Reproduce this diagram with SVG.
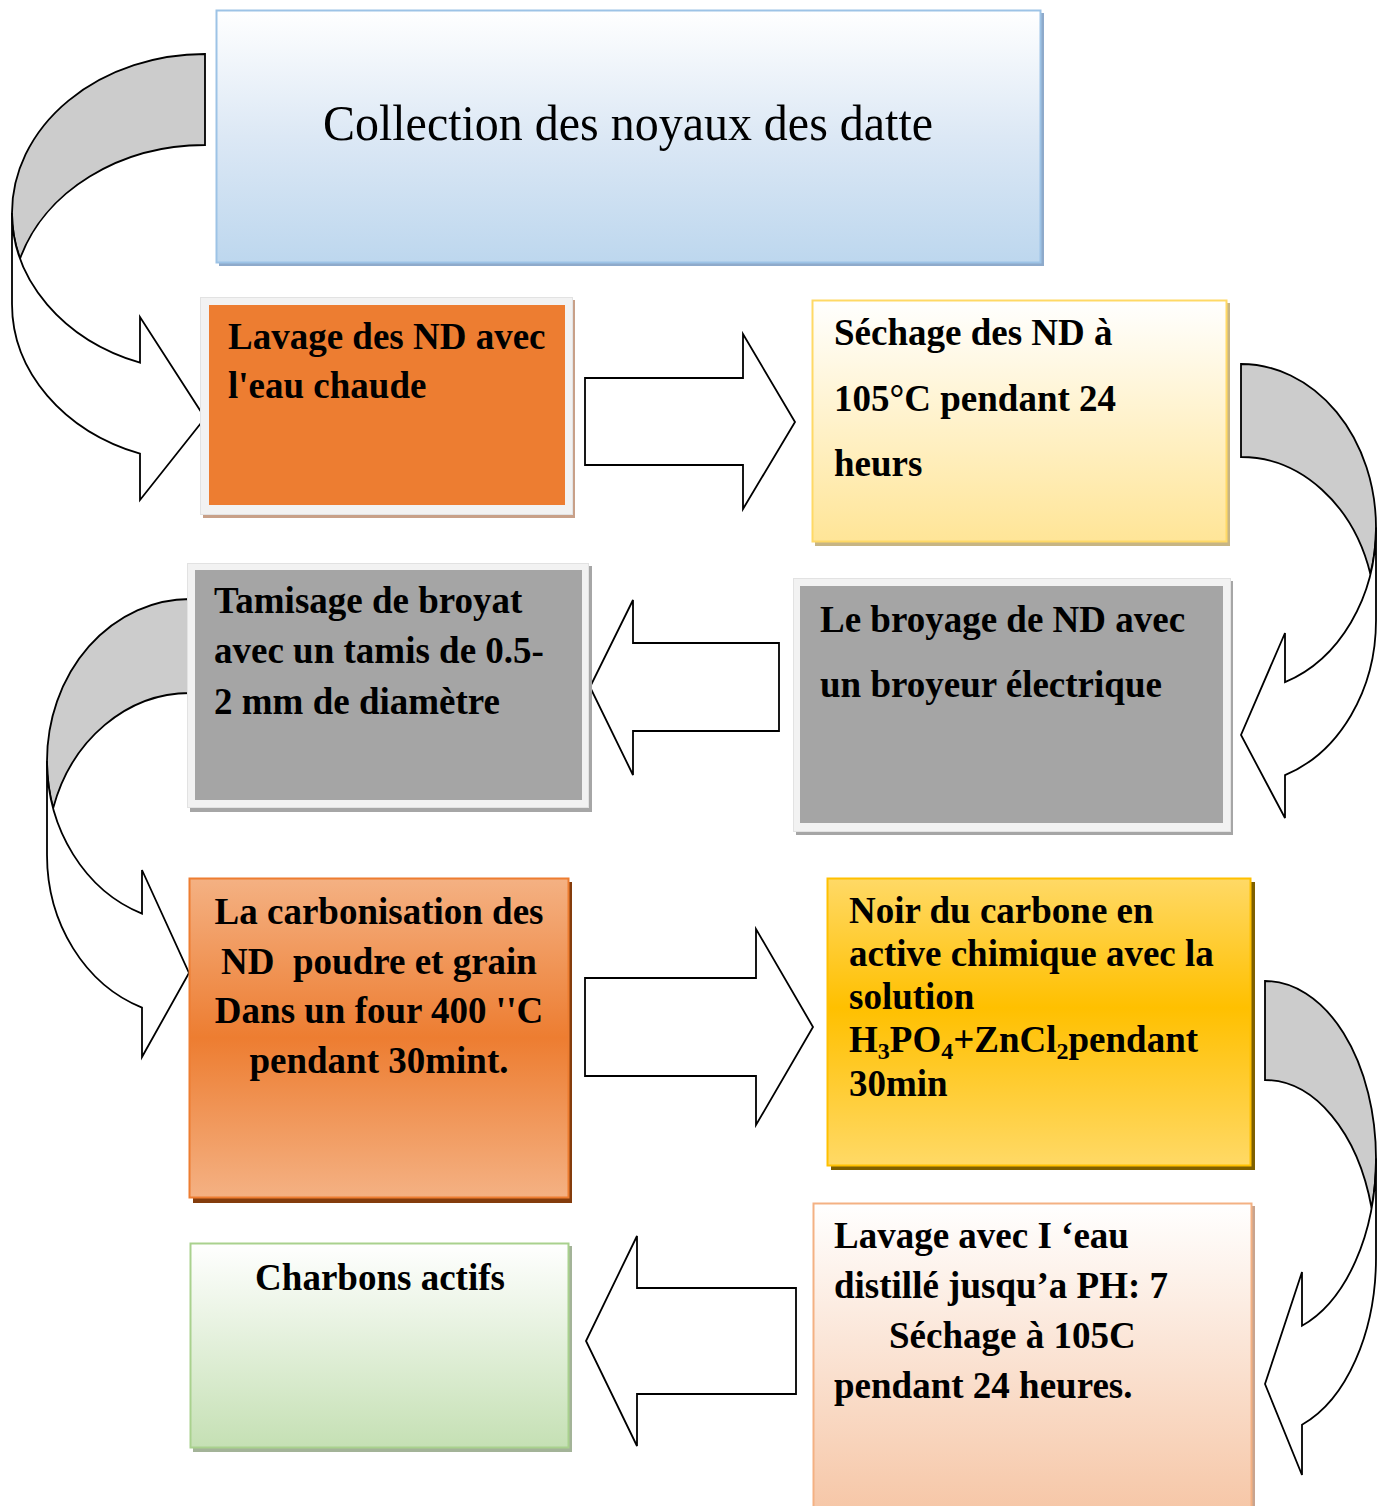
<svg xmlns="http://www.w3.org/2000/svg" width="1386" height="1506" viewBox="0 0 1386 1506">
<defs>
<linearGradient id="gTitle" x1="0" y1="0" x2="0" y2="1"><stop offset="0" stop-color="#ffffff"/><stop offset="0.5" stop-color="#dce8f5"/><stop offset="1" stop-color="#bdd7ee"/></linearGradient>
<linearGradient id="gYel" x1="0" y1="0" x2="0" y2="1"><stop offset="0" stop-color="#ffffff"/><stop offset="1" stop-color="#ffe597"/></linearGradient>
<linearGradient id="gOr" x1="0" y1="0" x2="0" y2="1"><stop offset="0" stop-color="#f4b183"/><stop offset="0.5" stop-color="#ed7d31"/><stop offset="1" stop-color="#f4b183"/></linearGradient>
<linearGradient id="gGold" x1="0" y1="0" x2="0" y2="1"><stop offset="0" stop-color="#ffd966"/><stop offset="0.45" stop-color="#ffc000"/><stop offset="1" stop-color="#ffd966"/></linearGradient>
<linearGradient id="gPeach" x1="0" y1="0" x2="0" y2="1"><stop offset="0" stop-color="#ffffff"/><stop offset="1" stop-color="#f6c6a6"/></linearGradient>
<linearGradient id="gGreen" x1="0" y1="0" x2="0" y2="1"><stop offset="0" stop-color="#ffffff"/><stop offset="1" stop-color="#c5e0b4"/></linearGradient>
</defs>
<style>
.t{font-family:"Liberation Serif","Times New Roman",serif;font-weight:bold;font-size:37px;fill:#000}
.title{font-family:"Liberation Serif","Times New Roman",serif;font-size:50px;fill:#000}
.arr{stroke:#000;stroke-width:1.8;stroke-linejoin:miter}
.back{fill:#cccccc}
.front{fill:#ffffff}
.frame{fill:#f2f2f2;stroke:#e2e2e2;stroke-width:1}
.gray{fill:#a5a5a5}
</style>

<g id="connectors">
  <g id="curve1">
    <path class="arr back" d="M 205 54 A 193 159 0 0 0 12 213 A 193 159 0 0 0 20.1 258.5 A 193 159 0 0 1 205 145 Z"/>
    <path class="arr front" d="M 12 213 A 193 159 0 0 0 140 362.7 L 140 317 L 205 418 L 140 500 L 140 453.7 A 193 159 0 0 1 12 304 Z"/>
  </g>
  <g id="curve2">
    <path class="arr back" d="M 1241 364 A 135 163.5 0 0 1 1376 527.5 A 135 163.5 0 0 1 1370.4 574 A 135 163.5 0 0 0 1241 457 Z"/>
    <path class="arr front" d="M 1376 527.5 A 135 163.5 0 0 1 1285 682.1 L 1285 633 L 1241 735 L 1285 818 L 1285 775.1 A 135 163.5 0 0 0 1376 620.5 Z"/>
  </g>
  <g id="curve3">
    <path class="arr back" d="M 190 599 A 143 162 0 0 0 47 761 A 143 162 0 0 0 53.2 808 A 143 162 0 0 1 190 693 Z"/>
    <path class="arr front" d="M 47 761 A 143 162 0 0 0 142 913.6 L 142 870 L 189 973 L 142 1057 L 142 1007.6 A 143 162 0 0 1 47 855 Z"/>
  </g>
  <g id="curve4">
    <path class="arr back" d="M 1265 981 A 111 177.5 0 0 1 1376 1158.5 A 111 177.5 0 0 1 1371.6 1208 A 111 177.5 0 0 0 1265 1080 Z"/>
    <path class="arr front" d="M 1376 1158.5 A 111 177.5 0 0 1 1302 1325.8 L 1302 1272 L 1265 1384 L 1302 1475 L 1302 1424.8 A 111 177.5 0 0 0 1376 1257.5 Z"/>
  </g>
  <polygon class="arr front" points="585,378 743,378 743,334 795,422 743,509 743,465 585,465"/>
  <polygon class="arr front" points="779,643 633,643 633,600 590,687 633,775 633,731 779,731"/>
  <polygon class="arr front" points="585,978 756,978 756,929 813,1027 756,1125 756,1076 585,1076"/>
  <polygon class="arr front" points="796,1288 637,1288 637,1236 586,1341 637,1446 637,1394 796,1394"/>
</g>

<g id="n-collection">
  <rect x="219" y="13" width="825" height="253" fill="#8eaacb"/>
  <rect x="216.5" y="10.5" width="824" height="252" fill="url(#gTitle)" stroke="#9dc3e6" stroke-width="2"/>
  <text class="title" x="628" y="140" text-anchor="middle" textLength="610" lengthAdjust="spacingAndGlyphs">Collection des noyaux des datte</text>
</g>

<g id="n-lavage">
  <rect x="203" y="300" width="372" height="218" fill="#c8a088"/>
  <rect x="200.5" y="297.5" width="372" height="217" class="frame"/>
  <rect x="209" y="305" width="356" height="200" fill="#ed7d31"/>
  <text class="t" x="228" y="349">Lavage des ND avec</text>
  <text class="t" x="228" y="398">l'eau chaude</text>
</g>

<g id="n-sechage">
  <rect x="815" y="303" width="415" height="243" fill="#c7b584"/>
  <rect x="812.5" y="300.5" width="414" height="241" fill="url(#gYel)" stroke="#ffd966" stroke-width="2"/>
  <text class="t" x="834" y="345">Séchage des ND à</text>
  <text class="t" x="834" y="411">105°C pendant 24</text>
  <text class="t" x="834" y="476">heurs</text>
</g>

<g id="n-broyage">
  <rect x="796" y="581" width="437" height="254" fill="#a6a6a6"/>
  <rect x="793.5" y="578.5" width="437" height="253" class="frame"/>
  <rect x="800" y="586" width="423" height="237" class="gray"/>
  <text class="t" x="820" y="632">Le broyage de ND avec</text>
  <text class="t" x="820" y="697">un broyeur électrique</text>
</g>

<g id="n-tamisage">
  <rect x="190" y="566" width="402" height="246" fill="#a6a6a6"/>
  <rect x="187.5" y="563.5" width="401" height="244" class="frame"/>
  <rect x="195" y="570" width="387" height="230" class="gray"/>
  <text class="t" x="214" y="613">Tamisage de broyat</text>
  <text class="t" x="214" y="663">avec un tamis de 0.5-</text>
  <text class="t" x="214" y="714">2 mm de diamètre</text>
</g>

<g id="n-carbonisation">
  <rect x="193" y="882" width="379" height="321" fill="#843c0c"/>
  <rect x="189.5" y="878.5" width="379" height="319" fill="url(#gOr)" stroke="#ed7d31" stroke-width="2"/>
  <text class="t" x="379" y="924" text-anchor="middle">La carbonisation des</text>
  <text class="t" x="379" y="974" text-anchor="middle" xml:space="preserve">ND  poudre et grain</text>
  <text class="t" x="379" y="1023" text-anchor="middle">Dans un four 400 ''C</text>
  <text class="t" x="379" y="1073" text-anchor="middle">pendant 30mint.</text>
</g>

<g id="n-noir">
  <rect x="831" y="882" width="424" height="288" fill="#7f6000"/>
  <rect x="827.5" y="878.5" width="423" height="287" fill="url(#gGold)" stroke="#ffc000" stroke-width="2"/>
  <text class="t" x="849" y="923">Noir du carbone en</text>
  <text class="t" x="849" y="966">active chimique avec la</text>
  <text class="t" x="849" y="1009">solution</text>
  <text class="t" x="849" y="1052">H<tspan dy="7" font-size="24">3</tspan><tspan dy="-7">PO</tspan><tspan dy="7" font-size="24">4</tspan><tspan dy="-7">+ZnCl</tspan><tspan dy="7" font-size="24">2</tspan><tspan dy="-7">pendant</tspan></text>
  <text class="t" x="849" y="1096">30min</text>
</g>

<g id="n-lavage2">
  <rect x="816" y="1206" width="439" height="310" fill="#c9a48e"/>
  <rect x="813.5" y="1203.5" width="438" height="310" fill="url(#gPeach)" stroke="#f4b183" stroke-width="2"/>
  <text class="t" x="834" y="1248">Lavage avec I ‘eau</text>
  <text class="t" x="834" y="1298">distillé jusqu’a PH: 7</text>
  <text class="t" x="889" y="1348">Séchage à 105C</text>
  <text class="t" x="834" y="1398">pendant 24 heures.</text>
</g>

<g id="n-charbons">
  <rect x="193" y="1246" width="379" height="206" fill="#a3b398"/>
  <rect x="190.5" y="1243.5" width="378" height="204" fill="url(#gGreen)" stroke="#a9d18e" stroke-width="2"/>
  <text class="t" x="380" y="1290" text-anchor="middle">Charbons actifs</text>
</g>
</svg>
